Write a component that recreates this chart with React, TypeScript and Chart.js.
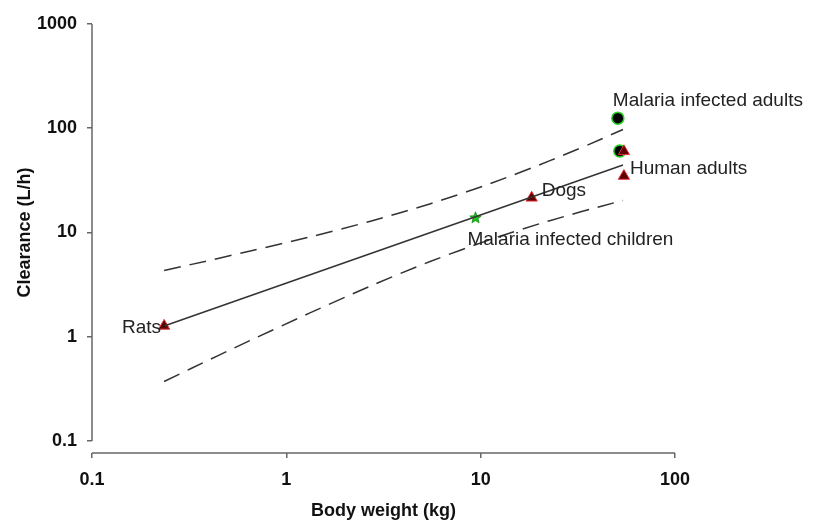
import React, { useEffect, useRef } from "react";
import { Chart, registerables } from "chart.js";

Chart.register(...registerables);

const FONT = "'Liberation Sans', Arial, sans-serif";

// Axis ticks
const xTicks = [0.1, 1, 10, 100];
const yTicks = [0.1, 1, 10, 100, 1000];

// Observed clearance by body weight
const triangleWeight = [0.235, 18.3, 54.6, 54.6];
const triangleClearance = [1.27, 21.5, 34.8, 60];
const circleWeight = [50.8, 52.0];
const circleClearance = [125, 60.5];
const childWeight = [9.4];
const childClearance = [13.9];

// Allometric fit and its band
const fitWeight = [0.235, 54];
const fitClearance = [1.27, 44.4];
const bandWeight = [0.235, 0.451, 0.92, 1.88, 3.82, 7.8, 15.9, 32.4, 54];
const upperClearance = [4.32, 5.67, 7.72, 10.7, 15.4, 23.3, 37.6, 64.3, 97.2];
const lowerClearance = [0.372, 0.667, 1.24, 2.27, 4.01, 6.73, 10.6, 15.7, 20.3];

// Point annotations: text, anchor weight, anchor clearance
const noteText = ["Rats", "Dogs", "Human adults", "Malaria infected adults", "Malaria infected children"];
const noteWeight = [0.235, 18.3, 54.6, 50.8, 9.4];
const noteClearance = [1.27, 21.5, 34.8, 125, 13.9];

const zip = (xs: number[], ys: number[]) => xs.map((x, i) => ({ x, y: ys[i] }));

function makeStar(): HTMLCanvasElement {
  const c = document.createElement("canvas");
  c.width = 13;
  c.height = 13;
  const g = c.getContext("2d")!;
  g.beginPath();
  for (let i = 0; i < 10; i++) {
    const r = i % 2 === 0 ? 6 : 2.6;
    const a = -Math.PI / 2 + (i * Math.PI) / 5;
    const px = 6.5 + r * Math.cos(a);
    const py = 6.8 + r * Math.sin(a);
    if (i === 0) g.moveTo(px, py);
    else g.lineTo(px, py);
  }
  g.closePath();
  g.fillStyle = "#1fc31f";
  g.fill();
  g.strokeStyle = "#0e8a0e";
  g.lineWidth = 0.8;
  g.stroke();
  return c;
}

const noteOffsets = [
  { dx: -3, dy: 2, align: "right" },
  { dx: 10, dy: -7, align: "left" },
  { dx: 6, dy: -7, align: "left" },
  { dx: -5, dy: -17, align: "left" },
  { dx: -8, dy: 22, align: "left" },
];

const overlay = {
  id: "overlay",
  afterDraw(chart: any) {
    const { ctx, chartArea, scales } = chart;
    const xs = scales.x;
    const ys = scales.y;
    const yTop = ys.getPixelForValue(yTicks[yTicks.length - 1]);
    const yBottom = ys.getPixelForValue(yTicks[0]);
    const xLeft = xs.getPixelForValue(xTicks[0]);
    const xRight = xs.getPixelForValue(xTicks[xTicks.length - 1]);
    ctx.save();
    // axis lines
    ctx.strokeStyle = "#666";
    ctx.lineWidth = 1.5;
    ctx.beginPath();
    ctx.moveTo(chartArea.left, yTop);
    ctx.lineTo(chartArea.left, yBottom);
    ctx.stroke();
    ctx.beginPath();
    ctx.moveTo(xLeft, chartArea.bottom);
    ctx.lineTo(xRight, chartArea.bottom);
    ctx.stroke();

    // annotations
    ctx.fillStyle = "#222";
    ctx.font = `19px ${FONT}`;
    ctx.textBaseline = "middle";
    noteText.forEach((t, i) => {
      const o = noteOffsets[i];
      ctx.textAlign = o.align;
      ctx.fillText(
        t,
        xs.getPixelForValue(noteWeight[i]) + o.dx,
        ys.getPixelForValue(noteClearance[i]) + o.dy
      );
    });

    // axis titles, centred on their axes
    ctx.fillStyle = "#111";
    ctx.font = `bold 18px ${FONT}`;
    ctx.textAlign = "center";
    ctx.fillText("Body weight (kg)", (xLeft + xRight) / 2, 511);
    ctx.translate(25, (yTop + yBottom) / 2);
    ctx.rotate(-Math.PI / 2);
    ctx.fillText("Clearance (L/h)", 0, 0);
    ctx.restore();
  },
};

export default function App() {
  const ref = useRef<HTMLCanvasElement | null>(null);

  useEffect(() => {
    const star = makeStar();
    const bandStyle = {
      type: "line",
      borderColor: "#333",
      borderWidth: 1.5,
      borderDash: [17, 9],
      pointRadius: 0,
      tension: 0.4,
      fill: false,
    };
    const chart = new Chart(ref.current!, {
      type: "scatter",
      data: {
        datasets: [
          { ...bandStyle, data: zip(bandWeight, upperClearance) },
          { ...bandStyle, data: zip(bandWeight, lowerClearance) },
          {
            type: "line",
            data: zip(fitWeight, fitClearance),
            borderColor: "#333",
            borderWidth: 1.5,
            pointRadius: 0,
            fill: false,
          },
          {
            data: zip(triangleWeight, triangleClearance),
            pointStyle: "triangle",
            pointRadius: 6.5,
            backgroundColor: "#5c0000",
            borderColor: "#e8323c",
            borderWidth: 1,
          },
          {
            data: zip(circleWeight, circleClearance),
            pointStyle: "circle",
            pointRadius: 6,
            backgroundColor: "#000",
            borderColor: "#2ad22a",
            borderWidth: 1.5,
          },
          {
            data: zip(childWeight, childClearance),
            pointStyle: star,
            pointRadius: 6,
          },
        ],
      },
      options: {
        animation: false,
        responsive: true,
        maintainAspectRatio: false,
        devicePixelRatio: 1,
        layout: { padding: { top: 24, right: 138, left: 0, bottom: 0 } },
        plugins: { legend: { display: false }, tooltip: { enabled: false } },
        scales: {
          x: {
            type: "logarithmic",
            min: 0.1,
            max: 100,
            afterBuildTicks: (s: any) => {
              s.ticks = xTicks.map((v) => ({ value: v }));
            },
            afterFit: (s: any) => {
              s.height = 71;
            },
            border: { display: false },
            grid: { drawOnChartArea: false, drawTicks: true, tickLength: 5, color: "#666", lineWidth: 1.5 },
            ticks: {
              autoSkip: false,
              maxRotation: 0,
              padding: 11,
              color: "#111",
              font: { family: FONT, size: 18, weight: "bold" },
              callback: (v: any) => String(v),
            },
          },
          y: {
            type: "logarithmic",
            min: 0.0767,
            max: 1000,
            afterBuildTicks: (s: any) => {
              s.ticks = yTicks.map((v) => ({ value: v }));
            },
            afterFit: (s: any) => {
              s.width = 92;
            },
            border: { display: false },
            grid: { drawOnChartArea: false, drawTicks: true, tickLength: 5, color: "#666", lineWidth: 1.5 },
            ticks: {
              autoSkip: false,
              padding: 10,
              color: "#111",
              font: { family: FONT, size: 18, weight: "bold" },
              callback: (v: any) => String(v),
            },
          },
        },
      },
      plugins: [overlay],
    });
    return () => chart.destroy();
  }, []);

  return (
    <div style={{ position: "absolute", left: 0, top: 0, width: 813, height: 524, background: "#fff" }}>
      <canvas ref={ref} />
    </div>
  );
}
